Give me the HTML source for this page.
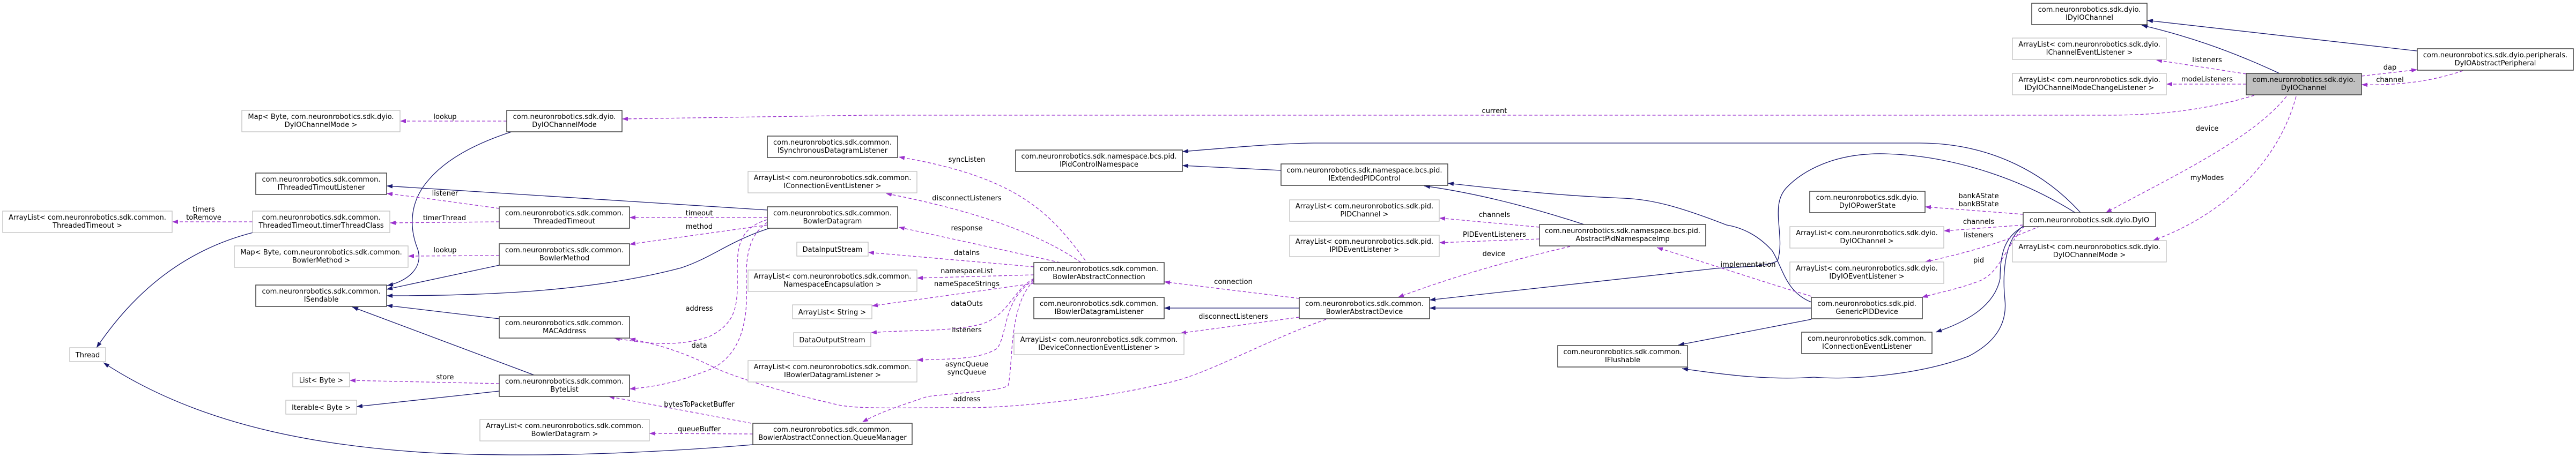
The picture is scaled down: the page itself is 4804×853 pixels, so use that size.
<!DOCTYPE html>
<html><head><meta charset="utf-8"><style>
html,body{margin:0;padding:0;background:#fff;}
svg{display:block;}
text{font-family:"DejaVu Sans","Liberation Sans",sans-serif;font-size:13px;fill:#000;}
.n{stroke:#404040;stroke-width:1.5;fill:#fff;}
.g{stroke:#bfbfbf;stroke-width:1.3;fill:#fff;}
.s{fill:none;stroke:#191970;stroke-width:1.3;}
.d{fill:none;stroke:#9a32cd;stroke-width:1.3;stroke-dasharray:6,4;}
</style></head><body>
<svg width="4804" height="853" viewBox="0 0 4804 853" xmlns="http://www.w3.org/2000/svg">
<defs>
<marker id="an" markerUnits="userSpaceOnUse" markerWidth="11" markerHeight="8" refX="11" refY="4" orient="auto"><path d="M0,0 L11,4 L0,8 z" fill="#191970"/></marker>
<marker id="ap" markerUnits="userSpaceOnUse" markerWidth="11" markerHeight="8" refX="11" refY="4" orient="auto"><path d="M0,0 L11,4 L0,8 z" fill="#9a32cd"/></marker>
</defs>

<!-- solid edges -->
<g class="s" marker-end="url(#an)">
<path d="M472,434 C330,470 240,560 180,649"/>
<path d="M1404,830 C1100,855 900,850 800,845 C550,830 350,780 193,677"/>
<path d="M954,246 C880,270 830,300 800,335 C760,380 765,430 779,465 C790,500 760,525 722,533"/>
<path d="M931,495 L721,540"/>
<path d="M1435,426 C1360,450 1330,480 1270,500 C1100,545 900,552 721,552"/>
<path d="M931,595 L721,570"/>
<path d="M996,700 L657,573"/>
<path d="M1431,392 L721,347"/>
<path d="M931,730 L665,759"/>
<path d="M4251,137 C4150,90 4070,65 3994,47"/>
<path d="M4507,95 L4004,38"/>
<path d="M3880,397 C3820,330 3720,267 3580,267 L2450,267 C2380,268 2300,275 2205,283"/>
<path d="M2389,318 L2205,309"/>
<path d="M2954,419 C2850,385 2750,360 2656,347"/>
<path d="M3378,564 C3330,545 3325,500 3305,468 C3280,440 3250,425 3220,420 C3130,385 3080,372 3028,370 C2900,365 2800,353 2700,342"/>
<path d="M3870,397 C3780,340 3650,290 3514,287 C3420,285 3360,320 3331,351 C3300,385 3330,440 3315,487 C3290,500 3230,498 3200,501 L2666,560"/>
<path d="M3378,575 L2666,575"/>
<path d="M3378,596 L3130,644"/>
<path d="M3773,422 C3735,450 3735,520 3739,560 C3745,620 3700,650 3671,665 C3580,700 3450,710 3383,704 C3300,710 3220,700 3137,688"/>
<path d="M3775,422 C3740,440 3730,470 3730,520 C3720,570 3670,600 3610,620"/>
<path d="M2423,575 L2171,575"/>
</g>

<!-- dashed edges -->
<g class="d" marker-end="url(#ap)">
<path d="M4204,178 C4130,200 4050,215 3931,215 L1620,215 L1160,222"/>
<path d="M945,226 L746,226"/>
<path d="M931,389 L800,371 L721,361"/>
<path d="M931,414 L727,416"/>
<path d="M471,414 L321,414"/>
<path d="M931,477 L761,478"/>
<path d="M1431,406 L1174,406"/>
<path d="M1431,420 L1174,456"/>
<path d="M1431,410 C1380,425 1375,460 1375,500 C1375,560 1380,600 1323,628 C1260,650 1200,640 1145,631"/>
<path d="M1431,415 C1395,440 1390,480 1392,540 C1395,620 1370,670 1323,690 C1260,715 1220,722 1174,726"/>
<path d="M931,716 L652,710"/>
<path d="M1401,790 L1135,740"/>
<path d="M1404,810 L1211,809"/>
<path d="M2024,486 C1960,400 1900,330 1676,293"/>
<path d="M2016,490 C1930,430 1800,390 1652,361"/>
<path d="M1977,490 L1676,424"/>
<path d="M1928,498 L1619,471"/>
<path d="M1928,513 L1710,519"/>
<path d="M1928,529 L1626,571"/>
<path d="M1928,520 C1890,540 1880,590 1830,605 C1770,620 1700,615 1624,621"/>
<path d="M1928,522 C1870,560 1880,620 1860,650 C1830,670 1780,670 1710,672"/>
<path d="M1928,524 C1880,570 1890,680 1880,720 C1860,730 1820,730 1730,740 C1670,760 1640,770 1608,788"/>
<path d="M2473,596 C2350,640 2250,700 2175,715 C2050,745 1900,760 1809,761 C1700,760 1600,765 1560,755 C1450,730 1360,700 1330,685 C1260,650 1210,640 1174,632"/>
<path d="M2423,557 L2171,526"/>
<path d="M2423,592 L2201,622"/>
<path d="M2871,424 L2684,407"/>
<path d="M2871,446 L2684,453"/>
<path d="M2928,460 C2800,490 2700,520 2607,555"/>
<path d="M3378,553 C3300,530 3180,490 3090,462"/>
<path d="M3773,400 L3590,386"/>
<path d="M3773,420 L3625,431"/>
<path d="M3805,422 C3760,440 3720,460 3590,489"/>
<path d="M3776,422 C3740,460 3730,510 3690,525 C3650,540 3620,545 3584,555"/>
<path d="M4189,138 L4021,112"/>
<path d="M4189,157 L4040,157"/>
<path d="M4404,142 L4508,130"/>
<path d="M4593,132 C4540,150 4480,160 4404,158"/>
<path d="M4264,180 C4200,260 4050,330 3927,397"/>
<path d="M4282,180 C4250,300 4150,400 4015,449"/>
</g>

<!-- edge labels -->
<g text-anchor="middle">
<text x="380" y="395">timers</text><text x="380" y="410">toRemove</text>
<text x="830" y="222">lookup</text>
<text x="830" y="365">listener</text>
<text x="829" y="411">timerThread</text>
<text x="830" y="471">lookup</text>
<text x="830" y="708">store</text>
<text x="1304" y="402">timeout</text>
<text x="1304" y="427">method</text>
<text x="1304" y="580">address</text>
<text x="1304" y="649">data</text>
<text x="1304" y="759">bytesToPacketBuffer</text>
<text x="1304" y="805">queueBuffer</text>
<text x="1803" y="302">syncListen</text>
<text x="1803" y="374">disconnectListeners</text>
<text x="1803" y="430">response</text>
<text x="1803" y="476">dataIns</text>
<text x="1803" y="510">namespaceList</text>
<text x="1803" y="534">nameSpaceStrings</text>
<text x="1803" y="571">dataOuts</text>
<text x="1803" y="620">listeners</text>
<text x="1803" y="684">asyncQueue</text><text x="1803" y="699">syncQueue</text>
<text x="1803" y="749">address</text>
<text x="2300" y="530">connection</text>
<text x="2300" y="595">disconnectListeners</text>
<text x="2787" y="211">current</text>
<text x="2787" y="405">channels</text>
<text x="2787" y="442">PIDEventListeners</text>
<text x="2786" y="478">device</text>
<text x="3260" y="498">implementation</text>
<text x="3690" y="370">bankAState</text><text x="3690" y="385">bankBState</text>
<text x="3690" y="418">channels</text>
<text x="3690" y="443">listeners</text>
<text x="3690" y="490">pid</text>
<text x="4116" y="116">listeners</text>
<text x="4116" y="152">modeListeners</text>
<text x="4457" y="130">dap</text>
<text x="4457" y="153">channel</text>
<text x="4116" y="244">device</text>
<text x="4116" y="336">myModes</text>
</g>

<!-- nodes -->
<g text-anchor="middle">
<rect class="g" x="451" y="206" width="295" height="40"/><text x="598.5" y="222">Map&lt; Byte, com.neuronrobotics.sdk.dyio.</text><text x="598.5" y="237">DyIOChannelMode &gt;</text>
<rect class="n" x="477" y="323" width="244" height="40"/><text x="599" y="339">com.neuronrobotics.sdk.common.</text><text x="599" y="354">IThreadedTimoutListener</text>
<rect class="g" x="5" y="394" width="316" height="40"/><text x="163" y="410">ArrayList&lt; com.neuronrobotics.sdk.common.</text><text x="163" y="425">ThreadedTimeout &gt;</text>
<rect class="g" x="471" y="394" width="256" height="40"/><text x="599" y="410">com.neuronrobotics.sdk.common.</text><text x="599" y="425">ThreadedTimeout.timerThreadClass</text>
<rect class="g" x="437" y="459" width="324" height="40"/><text x="599" y="475">Map&lt; Byte, com.neuronrobotics.sdk.common.</text><text x="599" y="490">BowlerMethod &gt;</text>
<rect class="n" x="477" y="532" width="244" height="40"/><text x="599" y="548">com.neuronrobotics.sdk.common.</text><text x="599" y="563">ISendable</text>
<rect class="g" x="130" y="649" width="67" height="26"/><text x="163.5" y="667">Thread</text>
<rect class="g" x="546" y="696" width="106" height="26"/><text x="599" y="714">List&lt; Byte &gt;</text>
<rect class="g" x="533" y="747" width="132" height="26"/><text x="599" y="765">Iterable&lt; Byte &gt;</text>
<rect class="n" x="945" y="206" width="215" height="40"/><text x="1052.5" y="222">com.neuronrobotics.sdk.dyio.</text><text x="1052.5" y="237">DyIOChannelMode</text>
<rect class="n" x="1431" y="254" width="243" height="40"/><text x="1552.5" y="270">com.neuronrobotics.sdk.common.</text><text x="1552.5" y="285">ISynchronousDatagramListener</text>
<rect class="g" x="1395" y="320" width="315" height="40"/><text x="1552.5" y="336">ArrayList&lt; com.neuronrobotics.sdk.common.</text><text x="1552.5" y="351">IConnectionEventListener &gt;</text>
<rect class="n" x="931" y="386" width="243" height="40"/><text x="1052.5" y="402">com.neuronrobotics.sdk.common.</text><text x="1052.5" y="417">ThreadedTimeout</text>
<rect class="n" x="1431" y="386" width="243" height="40"/><text x="1552.5" y="402">com.neuronrobotics.sdk.common.</text><text x="1552.5" y="417">BowlerDatagram</text>
<rect class="n" x="931" y="455" width="243" height="40"/><text x="1052.5" y="471">com.neuronrobotics.sdk.common.</text><text x="1052.5" y="486">BowlerMethod</text>
<rect class="g" x="1486" y="452" width="133" height="26"/><text x="1552.5" y="470">DataInputStream</text>
<rect class="g" x="1395" y="504" width="315" height="40"/><text x="1552.5" y="520">ArrayList&lt; com.neuronrobotics.sdk.common.</text><text x="1552.5" y="535">NamespaceEncapsulation &gt;</text>
<rect class="g" x="1478" y="569" width="148" height="26"/><text x="1552" y="587">ArrayList&lt; String &gt;</text>
<rect class="n" x="931" y="591" width="243" height="40"/><text x="1052.5" y="607">com.neuronrobotics.sdk.common.</text><text x="1052.5" y="622">MACAddress</text>
<rect class="g" x="1480" y="621" width="144" height="26"/><text x="1552" y="639">DataOutputStream</text>
<rect class="g" x="1395" y="673" width="315" height="40"/><text x="1552.5" y="689">ArrayList&lt; com.neuronrobotics.sdk.common.</text><text x="1552.5" y="704">IBowlerDatagramListener &gt;</text>
<rect class="n" x="931" y="700" width="243" height="40"/><text x="1052.5" y="716">com.neuronrobotics.sdk.common.</text><text x="1052.5" y="731">ByteList</text>
<rect class="g" x="895" y="783" width="316" height="40"/><text x="1053" y="799">ArrayList&lt; com.neuronrobotics.sdk.common.</text><text x="1053" y="814">BowlerDatagram &gt;</text>
<rect class="n" x="1404" y="790" width="297" height="40"/><text x="1552.5" y="806">com.neuronrobotics.sdk.common.</text><text x="1552.5" y="821">BowlerAbstractConnection.QueueManager</text>
<rect class="n" x="1894" y="280" width="311" height="40"/><text x="2049.5" y="296">com.neuronrobotics.sdk.namespace.bcs.pid.</text><text x="2049.5" y="311">IPidControlNamespace</text>
<rect class="n" x="1928" y="490" width="243" height="40"/><text x="2049.5" y="506">com.neuronrobotics.sdk.common.</text><text x="2049.5" y="521">BowlerAbstractConnection</text>
<rect class="n" x="1928" y="555" width="243" height="40"/><text x="2049.5" y="571">com.neuronrobotics.sdk.common.</text><text x="2049.5" y="586">IBowlerDatagramListener</text>
<rect class="g" x="1891" y="622" width="317" height="40"/><text x="2049.5" y="638">ArrayList&lt; com.neuronrobotics.sdk.common.</text><text x="2049.5" y="653">IDeviceConnectionEventListener &gt;</text>
<rect class="n" x="2389" y="306" width="311" height="40"/><text x="2544.5" y="322">com.neuronrobotics.sdk.namespace.bcs.pid.</text><text x="2544.5" y="337">IExtendedPIDControl</text>
<rect class="g" x="2405" y="373" width="279" height="40"/><text x="2544.5" y="389">ArrayList&lt; com.neuronrobotics.sdk.pid.</text><text x="2544.5" y="404">PIDChannel &gt;</text>
<rect class="g" x="2405" y="439" width="279" height="40"/><text x="2544.5" y="455">ArrayList&lt; com.neuronrobotics.sdk.pid.</text><text x="2544.5" y="470">IPIDEventListener &gt;</text>
<rect class="n" x="2871" y="419" width="310" height="40"/><text x="3026" y="435">com.neuronrobotics.sdk.namespace.bcs.pid.</text><text x="3026" y="450">AbstractPidNamespaceImp</text>
<rect class="n" x="2423" y="555" width="243" height="40"/><text x="2544.5" y="571">com.neuronrobotics.sdk.common.</text><text x="2544.5" y="586">BowlerAbstractDevice</text>
<rect class="n" x="2905" y="645" width="242" height="40"/><text x="3026" y="661">com.neuronrobotics.sdk.common.</text><text x="3026" y="676">IFlushable</text>
<rect class="n" x="3375" y="357" width="215" height="40"/><text x="3482.5" y="373">com.neuronrobotics.sdk.dyio.</text><text x="3482.5" y="388">DyIOPowerState</text>
<rect class="g" x="3338" y="423" width="287" height="40"/><text x="3481.5" y="439">ArrayList&lt; com.neuronrobotics.sdk.dyio.</text><text x="3481.5" y="454">DyIOChannel &gt;</text>
<rect class="g" x="3338" y="489" width="287" height="40"/><text x="3481.5" y="505">ArrayList&lt; com.neuronrobotics.sdk.dyio.</text><text x="3481.5" y="520">IDyIOEventListener &gt;</text>
<rect class="n" x="3378" y="555" width="207" height="40"/><text x="3481.5" y="571">com.neuronrobotics.sdk.pid.</text><text x="3481.5" y="586">GenericPIDDevice</text>
<rect class="n" x="3360" y="620" width="243" height="40"/><text x="3481.5" y="636">com.neuronrobotics.sdk.common.</text><text x="3481.5" y="651">IConnectionEventListener</text>
<rect class="n" x="3773" y="397" width="247" height="26"/><text x="3896.5" y="415">com.neuronrobotics.sdk.dyio.DyIO</text>
<rect class="g" x="3753" y="449" width="287" height="40"/><text x="3896.5" y="465">ArrayList&lt; com.neuronrobotics.sdk.dyio.</text><text x="3896.5" y="480">DyIOChannelMode &gt;</text>
<rect class="n" x="3789" y="6" width="215" height="40"/><text x="3896.5" y="22">com.neuronrobotics.sdk.dyio.</text><text x="3896.5" y="37">IDyIOChannel</text>
<rect class="g" x="3753" y="71" width="287" height="40"/><text x="3896.5" y="87">ArrayList&lt; com.neuronrobotics.sdk.dyio.</text><text x="3896.5" y="102">IChannelEventListener &gt;</text>
<rect class="g" x="3753" y="137" width="287" height="40"/><text x="3896.5" y="153">ArrayList&lt; com.neuronrobotics.sdk.dyio.</text><text x="3896.5" y="168">IDyIOChannelModeChangeListener &gt;</text>
<rect class="n" x="4189" y="137" width="215" height="40" style="fill:#bfbfbf"/><text x="4296.5" y="153">com.neuronrobotics.sdk.dyio.</text><text x="4296.5" y="168">DyIOChannel</text>
<rect class="n" x="4508" y="91" width="291" height="40"/><text x="4653.5" y="107">com.neuronrobotics.sdk.dyio.peripherals.</text><text x="4653.5" y="122">DyIOAbstractPeripheral</text>
</g>
</svg>
</body></html>
